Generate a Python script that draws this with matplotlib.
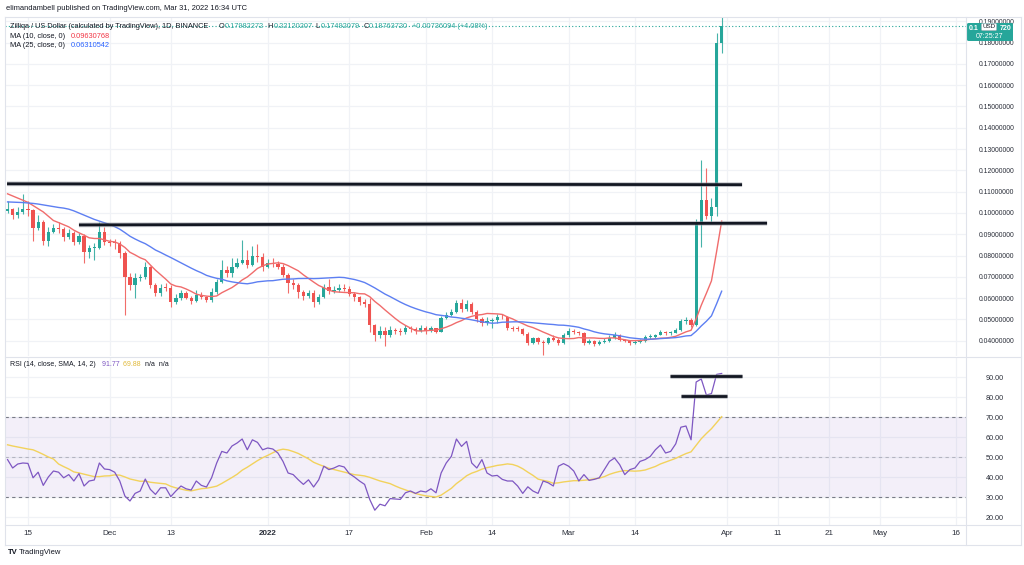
import matplotlib
matplotlib.use('Agg')
import matplotlib.pyplot as plt
import numpy as np
import pandas as pd
from matplotlib.lines import Line2D
from matplotlib.patches import FancyBboxPatch

plt.rcParams['font.family'] = ['Liberation Sans', 'DejaVu Sans']

# ---------------- data (daily candles, 2021-11-11 .. 2022-03-31) ----------------
opens = [
    0.1010, 0.1020, 0.0990, 0.1005, 0.1020, 0.1012, 0.0930, 0.0958, 0.0870, 0.0910,
    0.0930, 0.0925, 0.0888, 0.0906, 0.0864, 0.0890, 0.0817, 0.0835, 0.0838, 0.0910,
    0.0865, 0.0860, 0.0858, 0.0810, 0.0700, 0.0662, 0.0695, 0.0700, 0.0745, 0.0662,
    0.0625, 0.0650, 0.0648, 0.0580, 0.0600, 0.0623, 0.0600, 0.0587, 0.0615, 0.0605,
    0.0590, 0.0629, 0.0676, 0.0732, 0.0720, 0.0745, 0.0765, 0.0780, 0.0755, 0.0800,
    0.0795, 0.0748, 0.0765, 0.0760, 0.0748, 0.0710, 0.0670, 0.0660, 0.0630, 0.0610,
    0.0625, 0.0580, 0.0605, 0.0652, 0.0634, 0.0638, 0.0650, 0.0645, 0.0620, 0.0605,
    0.0582, 0.0572, 0.0474, 0.0427, 0.0446, 0.0427, 0.0450, 0.0445, 0.0440, 0.0460,
    0.0455, 0.0448, 0.0460, 0.0445, 0.0460, 0.0443, 0.0507, 0.0522, 0.0536, 0.0578,
    0.0548, 0.0575, 0.0535, 0.0502, 0.0485, 0.0495, 0.0497, 0.0512, 0.0510, 0.0460,
    0.0457, 0.0455, 0.0432, 0.0390, 0.0412, 0.0395, 0.0388, 0.0413, 0.0405, 0.0390,
    0.0428, 0.0447, 0.0440, 0.0435, 0.0390, 0.0400, 0.0385, 0.0395, 0.0400, 0.0415,
    0.0428, 0.0404, 0.0400, 0.0390, 0.0393, 0.0400, 0.0418, 0.0420, 0.0427, 0.0441,
    0.0435, 0.0438, 0.0450, 0.0493, 0.0498, 0.0474, 0.0953, 0.1060, 0.0986, 0.1028,
    0.17982272]
highs = [
    0.1055, 0.1025, 0.1030, 0.1090, 0.1056, 0.1020, 0.0990, 0.0965, 0.0935, 0.0950,
    0.0960, 0.0935, 0.0925, 0.0915, 0.0905, 0.0900, 0.0850, 0.0860, 0.0958, 0.0935,
    0.0880, 0.0880, 0.0870, 0.0820, 0.0720, 0.0720, 0.0715, 0.0770, 0.0750, 0.0670,
    0.0665, 0.0670, 0.0660, 0.0620, 0.0640, 0.0635, 0.0610, 0.0640, 0.0630, 0.0610,
    0.0650, 0.0690, 0.0780, 0.0750, 0.0790, 0.0790, 0.0873, 0.0825, 0.0845, 0.0855,
    0.0810, 0.0785, 0.0790, 0.0775, 0.0760, 0.0720, 0.0690, 0.0670, 0.0640, 0.0640,
    0.0640, 0.0620, 0.0665, 0.0690, 0.0655, 0.0665, 0.0665, 0.0655, 0.0630, 0.0610,
    0.0595, 0.0600, 0.0480, 0.0470, 0.0465, 0.0470, 0.0460, 0.0462, 0.0475, 0.0470,
    0.0465, 0.0472, 0.0468, 0.0470, 0.0462, 0.0515, 0.0535, 0.0550, 0.0590, 0.0595,
    0.0590, 0.0580, 0.0545, 0.0510, 0.0510, 0.0505, 0.0525, 0.0525, 0.0515, 0.0470,
    0.0470, 0.0462, 0.0440, 0.0420, 0.0420, 0.0402, 0.0420, 0.0425, 0.0412, 0.0435,
    0.0460, 0.0455, 0.0445, 0.0440, 0.0410, 0.0405, 0.0405, 0.0412, 0.0425, 0.0440,
    0.0432, 0.0410, 0.0405, 0.0405, 0.0408, 0.0425, 0.0430, 0.0432, 0.0450, 0.0448,
    0.0445, 0.0460, 0.0500, 0.0510, 0.0505, 0.0970, 0.1250, 0.1210, 0.1070, 0.1845,
    0.22120207]
lows = [
    0.1000, 0.0970, 0.0975, 0.0995, 0.0986, 0.0870, 0.0920, 0.0850, 0.0845, 0.0905,
    0.0905, 0.0870, 0.0880, 0.0850, 0.0855, 0.0765, 0.0790, 0.0780, 0.0830, 0.0850,
    0.0845, 0.0830, 0.0790, 0.0520, 0.0640, 0.0600, 0.0680, 0.0690, 0.0650, 0.0610,
    0.0610, 0.0635, 0.0560, 0.0575, 0.0590, 0.0595, 0.0575, 0.0580, 0.0595, 0.0580,
    0.0580, 0.0620, 0.0670, 0.0700, 0.0700, 0.0740, 0.0760, 0.0740, 0.0750, 0.0770,
    0.0730, 0.0740, 0.0745, 0.0735, 0.0700, 0.0625, 0.0645, 0.0600, 0.0590, 0.0600,
    0.0560, 0.0575, 0.0600, 0.0620, 0.0625, 0.0630, 0.0635, 0.0610, 0.0585, 0.0570,
    0.0560, 0.0440, 0.0400, 0.0415, 0.0376, 0.0420, 0.0430, 0.0425, 0.0432, 0.0440,
    0.0432, 0.0440, 0.0430, 0.0440, 0.0435, 0.0440, 0.0500, 0.0515, 0.0530, 0.0535,
    0.0540, 0.0525, 0.0490, 0.0470, 0.0475, 0.0460, 0.0485, 0.0500, 0.0450, 0.0445,
    0.0445, 0.0425, 0.0380, 0.0385, 0.0385, 0.0333, 0.0385, 0.0398, 0.0380, 0.0385,
    0.0420, 0.0430, 0.0425, 0.0380, 0.0385, 0.0375, 0.0380, 0.0390, 0.0395, 0.0410,
    0.0398, 0.0395, 0.0380, 0.0384, 0.0388, 0.0396, 0.0410, 0.0415, 0.0425, 0.0428,
    0.0425, 0.0435, 0.0445, 0.0480, 0.0465, 0.0470, 0.0840, 0.0970, 0.0955, 0.0985,
    0.17492079]
closes = [
    0.1020, 0.0990, 0.1005, 0.1020, 0.1012, 0.0930, 0.0958, 0.0870, 0.0910, 0.0930,
    0.0925, 0.0888, 0.0906, 0.0864, 0.0890, 0.0817, 0.0835, 0.0838, 0.0910, 0.0865,
    0.0860, 0.0858, 0.0810, 0.0700, 0.0662, 0.0695, 0.0700, 0.0745, 0.0662, 0.0625,
    0.0650, 0.0648, 0.0580, 0.0600, 0.0623, 0.0600, 0.0587, 0.0615, 0.0605, 0.0590,
    0.0629, 0.0676, 0.0732, 0.0720, 0.0745, 0.0765, 0.0780, 0.0755, 0.0800, 0.0795,
    0.0748, 0.0765, 0.0760, 0.0748, 0.0710, 0.0670, 0.0660, 0.0630, 0.0610, 0.0625,
    0.0580, 0.0605, 0.0652, 0.0634, 0.0638, 0.0650, 0.0645, 0.0620, 0.0605, 0.0582,
    0.0572, 0.0474, 0.0427, 0.0446, 0.0427, 0.0450, 0.0445, 0.0440, 0.0460, 0.0455,
    0.0448, 0.0460, 0.0445, 0.0460, 0.0443, 0.0507, 0.0522, 0.0536, 0.0578, 0.0548,
    0.0575, 0.0535, 0.0502, 0.0485, 0.0495, 0.0497, 0.0512, 0.0510, 0.0460, 0.0457,
    0.0455, 0.0432, 0.0390, 0.0412, 0.0395, 0.0388, 0.0413, 0.0405, 0.0390, 0.0428,
    0.0447, 0.0440, 0.0435, 0.0390, 0.0400, 0.0385, 0.0395, 0.0400, 0.0415, 0.0428,
    0.0404, 0.0400, 0.0390, 0.0393, 0.0400, 0.0418, 0.0420, 0.0427, 0.0441, 0.0435,
    0.0438, 0.0450, 0.0493, 0.0498, 0.0474, 0.0953, 0.1060, 0.0986, 0.1028, 0.17982272,
    0.18763720]

# moving-average values before the window fills
ma10_head = [0.1090, 0.1080, 0.1070, 0.1060, 0.1050, 0.1035, 0.1020, 0.1005, 0.0985]
ma25_head = [0.1052, 0.1051, 0.1050, 0.1049, 0.1047, 0.1045, 0.1042, 0.1038, 0.1034, 0.1030,
             0.1026, 0.1023, 0.1018, 0.1010, 0.1000, 0.0990, 0.0980, 0.0970, 0.0962, 0.0954,
             0.0946, 0.0936, 0.0924, 0.0908]

rsi = [
    48.7, 44.5, 46.5, 47.0, 46.8, 39.6, 42.4, 35.8, 40.0, 43.0,
    42.4, 39.6, 41.2, 38.0, 41.7, 35.5, 38.0, 38.5, 47.0, 44.0,
    43.7, 42.4, 38.0, 30.5, 28.0, 31.8, 33.0, 39.0, 33.8, 31.3,
    34.6, 34.6, 30.2, 33.0, 35.5, 34.1, 33.5, 38.0, 35.8, 35.0,
    39.6, 47.0, 52.8, 52.0, 55.5, 57.0, 59.0, 53.6, 58.6, 57.3,
    53.6, 54.5, 54.0, 52.0, 47.8, 42.0, 41.2, 38.6, 36.3, 38.6,
    35.0, 38.6, 45.4, 43.7, 44.5, 45.7, 45.0, 41.7, 40.0, 38.0,
    36.3, 28.8, 23.4, 26.4, 25.6, 29.2, 29.0, 28.8, 32.1, 33.0,
    31.8, 33.0, 32.5, 34.1, 32.1, 42.0, 47.0, 50.3, 59.0, 55.3,
    57.8, 47.0, 44.5, 48.7, 42.0, 40.5, 40.8, 38.8, 38.0, 38.0,
    35.5, 31.8, 35.1, 33.0, 31.8, 38.0, 37.1, 35.5, 45.4, 46.7,
    45.4, 43.0, 38.0, 41.2, 38.3, 38.8, 39.6, 43.7, 47.8, 49.5,
    46.2, 41.2, 43.7, 44.5, 47.8, 48.7, 50.3, 53.6, 56.0, 52.0,
    52.8, 56.6, 64.9, 65.5, 58.6, 87.5, 89.0, 81.0, 81.7, 91.3,
    91.77]
rsi_ma_head = [56.1, 55.5, 55.0, 54.5, 54.0, 53.6, 52.5, 51.3, 50.0, 49.0, 46.5, 45.2, 44.0]

# drawn horizontal levels: (start day, end day, start value, end value)
price_levels = [(-0.1, 144.0, 0.1137, 0.1133), (14.0, 148.9, 0.0944, 0.0952)]
rsi_levels = [(129.9, 144.0, 90.5, 90.5), (132.0, 141.0, 80.5, 80.5)]

tick_days = [4, 20, 32, 51, 67, 82, 95, 110, 123, 141, 151, 161, 171, 186]
tick_labels = ['15', 'Dec', '13', '2022', '17', 'Feb', '14', 'Mar', '14', 'Apr', '11', '21', 'May', '16']
price_ticks = [0.04, 0.05, 0.06, 0.07, 0.08, 0.09, 0.10, 0.11, 0.12, 0.13, 0.14, 0.15, 0.16, 0.17, 0.18, 0.19]
rsi_ticks = [20, 30, 40, 50, 60, 70, 80, 90]

# ---------------- derived ----------------
n = len(closes)
days = np.arange(n)
cs = pd.Series(closes)
ma10 = cs.rolling(10).mean().values
ma10[:len(ma10_head)] = ma10_head
ma25 = cs.rolling(25).mean().values
ma25[:len(ma25_head)] = ma25_head
rsi_ma = pd.Series(rsi).rolling(14).mean().values
rsi_ma[:len(rsi_ma_head)] = rsi_ma_head

UP, DN = '#26A69A', '#EF5350'
TXT = '#131722'
GRID = '#F0F2F6'
BORDER = '#E0E3EB'

W, H = 1024, 565
fig = plt.figure(figsize=(W / 100, H / 100), dpi=100)
fig.patch.set_facecolor('white')


def fr(x0, y0, x1, y1):
    return [x0 / W, 1 - y1 / H, (x1 - x0) / W, (y1 - y0) / H]


ax = fig.add_axes(fr(5, 17, 966, 356))
axr = fig.add_axes(fr(5, 357, 966, 525), sharex=ax)

for a in (ax, axr):
    for s in a.spines.values():
        s.set_visible(False)
    a.set_facecolor('white')
    for d in tick_days:
        a.axvline(d, color=GRID, lw=0.9, zorder=0)

ax.set_xlim(-0.5, 187.9)
ax.set_ylim(0.03286, 0.19202)
axr.set_ylim(16, 100)

for p in price_ticks:
    ax.axhline(p, color=GRID, lw=0.9, zorder=0)
for r in rsi_ticks:
    axr.axhline(r, color=GRID, lw=0.9, zorder=0)

# candles
o = np.array(opens); c = np.array(closes); h = np.array(highs); l = np.array(lows)
cols = [UP if cc >= oo else DN for oo, cc in zip(o, c)]
ax.vlines(days, l, h, colors=cols, lw=0.8, alpha=0.85, zorder=3)
bodies = np.maximum(np.abs(c - o), 0.0004)
ax.bar(days, bodies, bottom=np.minimum(o, c), width=0.64, color=cols, lw=0, zorder=4)

# moving averages
ax.plot(days, ma10, color='#F06C6C', lw=1.0, zorder=5)
ax.plot(days, ma25, color='#5D7FF2', lw=1.0, zorder=5)

# current price dotted line
ax.axhline(closes[-1], color=UP, lw=0.8, ls=(0, (1, 2)), zorder=2)

# drawn levels
for x0, x1, y0, y1 in price_levels:
    ax.plot([x0, x1], [y0, y1], color='#9598A1', lw=3.4, alpha=0.55, solid_capstyle='butt', zorder=6)
    ax.plot([x0, x1], [y0, y1], color=TXT, lw=2.0, solid_capstyle='butt', zorder=7)
for x0, x1, y0, y1 in rsi_levels:
    axr.plot([x0, x1], [y0, y1], color='#9598A1', lw=3.4, alpha=0.55, solid_capstyle='butt', zorder=6)
    axr.plot([x0, x1], [y0, y1], color=TXT, lw=2.0, solid_capstyle='butt', zorder=7)

# RSI pane
axr.axhspan(30, 70, color='#7E57C2', alpha=0.09, lw=0, zorder=1)
axr.axhline(70, color='#787B86', lw=0.8, ls=(0, (3, 3)), zorder=2)
axr.axhline(30, color='#787B86', lw=0.8, ls=(0, (3, 3)), zorder=2)
axr.axhline(50, color='#787B86', lw=0.8, ls=(0, (3, 3)), alpha=0.45, zorder=2)
axr.plot(days, rsi_ma, color='#F2D25C', lw=1.0, zorder=4)
axr.plot(days, rsi, color='#7E57C2', lw=0.9, zorder=5)

# axes ticks
ax.yaxis.tick_right()
ax.set_yticks(price_ticks)
ax.set_yticklabels(['%.8f' % p for p in price_ticks])
ax.tick_params(axis='y', length=0, pad=9, labelsize=4.9, labelcolor='#2A2E39')
ax.tick_params(axis='x', length=0, labelbottom=False)

axr.yaxis.tick_right()
axr.set_yticks(rsi_ticks)
axr.set_yticklabels(['%.2f' % r for r in rsi_ticks])
axr.tick_params(axis='y', length=0, pad=14, labelsize=5.2, labelcolor='#2A2E39')
axr.set_xticks(tick_days)
axr.set_xticklabels(tick_labels)
axr.tick_params(axis='x', length=0, pad=3.5, labelsize=5.8, labelcolor='#2A2E39')
for t in axr.get_xticklabels():
    if t.get_text() == '2022':
        t.set_fontweight('bold')

# frame lines (figure pixels)
def fline(x0, y0, x1, y1, color=BORDER, lw=0.8):
    fig.add_artist(Line2D([x0 / W, x1 / W], [1 - y0 / H, 1 - y1 / H], color=color, lw=lw))

fline(5, 17, 1021, 17)
fline(5, 17, 5, 545)
fline(1021, 17, 1021, 545)
fline(5, 545, 1021, 545)
fline(966, 17, 966, 545)
fline(5, 356.5, 1021, 356.5)
fline(5, 525, 1021, 525)

# texts
renderer = fig.canvas.get_renderer()


def seq_text(x, y, parts, size, gap=0):
    for s, col in parts:
        t = fig.text(x / W, 1 - y / H, s, color=col, fontsize=size, va='center', ha='left')
        bb = t.get_window_extent(renderer)
        x = bb.x1 + gap


fig.text(6 / W, 1 - 8 / H, 'elimandambell published on TradingView.com, Mar 31, 2022 16:34 UTC',
         fontsize=5.4, color=TXT, va='center', ha='left')

seq_text(10, 26, [('Zilliqa / US Dollar (calculated by TradingView), 1D, BINANCE', TXT)], 5.3)
seq_text(219, 26, [('O', TXT), ('0.17982272', UP), ('  H', TXT), ('0.22120207', UP),
                   ('  L', TXT), ('0.17492079', UP), ('  C', TXT), ('0.18763720', UP),
                   ('  +0.00736094 (+4.08%)', UP)], 5.3)
seq_text(10, 36, [('MA (10, close, 0)  ', TXT), ('0.09630768', '#F23645')], 5.3, gap=2)
seq_text(10, 45.5, [('MA (25, close, 0)  ', TXT), ('0.06310542', '#2962FF')], 5.3, gap=2)
seq_text(10, 364, [('RSI (14, close, SMA, 14, 2)  ', TXT), ('91.77 ', '#7E57C2'),
                   ('69.88 ', '#E0B93A'), ('n/a  n/a', TXT)], 5.0, gap=2)

# current price label (the USD tag covers the middle digits, as in the source)
fig.add_artist(FancyBboxPatch((967 / W, 1 - 41 / H), 46 / W, 18 / H,
                              boxstyle='round,pad=0,rounding_size=0.002',
                              transform=fig.transFigure, facecolor=UP, edgecolor='none'))
fig.text(969 / W, 1 - 28.5 / H, '0.1', color='white', fontsize=5.0,
         fontweight='bold', ha='left', va='center')
fig.text(1011 / W, 1 - 28.5 / H, '720', color='white', fontsize=5.0,
         fontweight='bold', ha='right', va='center')
fig.text(990 / W, 1 - 36.5 / H, '07:25:27', color='white', fontsize=5.0, ha='center', va='center')
fig.text(989 / W, 1 - 27 / H, 'USD', color=TXT, fontsize=4.5, ha='center', va='center',
         bbox=dict(boxstyle='round,pad=0.15', fc='white', ec='#B2B5BE', lw=0.4))

# logo
fig.text(8 / W, 1 - 553 / H, 'TV', fontsize=5.5, fontweight='bold', color=TXT, ha='left', va='center')
fig.text(19 / W, 1 - 553 / H, 'TradingView', fontsize=5.5, color=TXT, ha='left', va='center')

fig.savefig('out.png', dpi=100)
